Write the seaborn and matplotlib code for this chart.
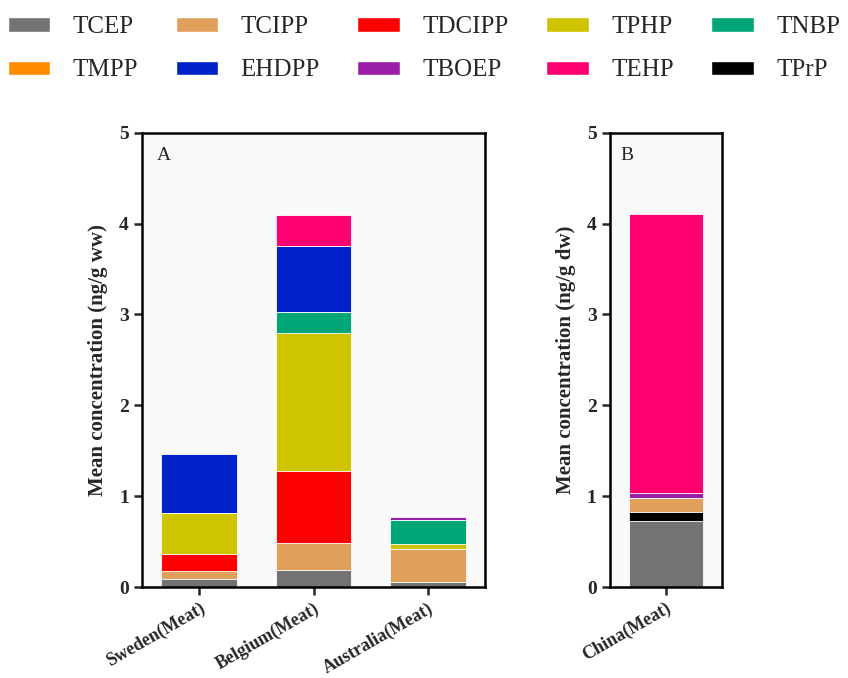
import pandas as pd
import numpy as np
import matplotlib.pyplot as plt
import seaborn as sns
from matplotlib.patches import Patch

# Stacking order (bottom -> top) and colours
compounds = ['TCEP', 'TPrP', 'TCIPP', 'TDCIPP', 'TPHP', 'TNBP', 'TMPP', 'EHDPP', 'TBOEP', 'TEHP']
colors = ['#737373', '#000000', '#e09f5a', '#ff0000', '#cfc400', '#00a676', '#ff8c00', '#0022c8', '#9a1ea8', '#ff0070']

# legend order as printed (row by row)
legend_rows = [['TCEP', 'TCIPP', 'TDCIPP', 'TPHP', 'TNBP'],
               ['TMPP', 'EHDPP', 'TBOEP', 'TEHP', 'TPrP']]

# mean concentrations, same order as compounds
sweden = [0.09, 0.0, 0.09, 0.18, 0.46, 0.0, 0.0, 0.64, 0.0, 0.0]
belgium = [0.19, 0.0, 0.29, 0.80, 1.52, 0.23, 0.0, 0.72, 0.0, 0.35]
australia = [0.06, 0.0, 0.36, 0.0, 0.05, 0.27, 0.0, 0.0, 0.03, 0.0]
china = [0.73, 0.10, 0.155, 0.0, 0.0, 0.0, 0.0, 0.0, 0.055, 3.07]

sites_a = ['Sweden(Meat)', 'Belgium(Meat)', 'Australia(Meat)']
sites_b = ['China(Meat)']

sns.set_style('ticks')
plt.rcParams['font.family'] = ['Liberation Serif', 'DejaVu Serif']


def stacked(ax, sites, values):
    df = pd.DataFrame(values, index=sites, columns=compounds)
    cum = df.cumsum(axis=1)
    # draw tallest cumulative first so lower layers sit on top
    for i in range(len(compounds) - 1, -1, -1):
        d = pd.DataFrame({'site': sites, 'val': cum[compounds[i]].values})
        sns.barplot(data=d, x='site', y='val', order=sites, color=colors[i],
                    saturation=1, width=0.66, errorbar=None, ax=ax,
                    edgecolor='white', linewidth=0.6)


def style(ax, ylabel, letter, dx):
    ax.set_facecolor('#fafafa')
    ax.set_ylim(0, 5)
    ax.set_yticks([0, 1, 2, 3, 4, 5])
    ax.set_xlabel('')
    ax.set_ylabel(ylabel, fontsize=15, fontweight='bold', labelpad=8)
    for s in ax.spines.values():
        s.set_visible(True)
        s.set_linewidth(1.8)
        s.set_color('black')
    ax.tick_params(axis='both', direction='out', length=6, width=1.8, labelsize=14)
    ax.tick_params(axis='x', labelsize=13, pad=3)
    for lab in ax.get_yticklabels():
        lab.set_fontweight('bold')
    for lab in ax.get_xticklabels():
        lab.set_fontweight('bold')
        lab.set_rotation(30)
        lab.set_ha('right')
        lab.set_rotation_mode('anchor')
    ax.annotate(letter, xy=(0, 1), xycoords='axes fraction', xytext=(dx, -14),
                textcoords='offset pixels', fontsize=14, va='top', ha='left')


fig = plt.figure(figsize=(8.48, 6.78), dpi=100)
ax1 = fig.add_axes([0.1675, 0.1342, 0.4045, 0.670])
ax2 = fig.add_axes([0.719, 0.1342, 0.132, 0.670])

stacked(ax1, sites_a, [sweden, belgium, australia])
stacked(ax2, sites_b, [china])
ax1.set_xlim(-0.5, 2.5)
ax2.set_xlim(-0.5, 0.5)

style(ax1, 'Mean concentration (ng/g ww)', 'A', 15)
style(ax2, 'Mean concentration (ng/g dw)', 'B', 11)

# legend: matplotlib fills columns first, so interleave the two rows
handles = []
for c in range(5):
    for r in range(2):
        name = legend_rows[r][c]
        handles.append(Patch(facecolor=colors[compounds.index(name)], label=name))
fig.legend(handles=handles, ncol=5, loc='upper center', bbox_to_anchor=(0.5, 1.0),
           frameon=False, fontsize=18, handlelength=1.7, handleheight=0.5,
           handletextpad=0.9, columnspacing=1.5, labelspacing=0.85, borderpad=0.15)

fig.savefig('out.png', dpi=100)
